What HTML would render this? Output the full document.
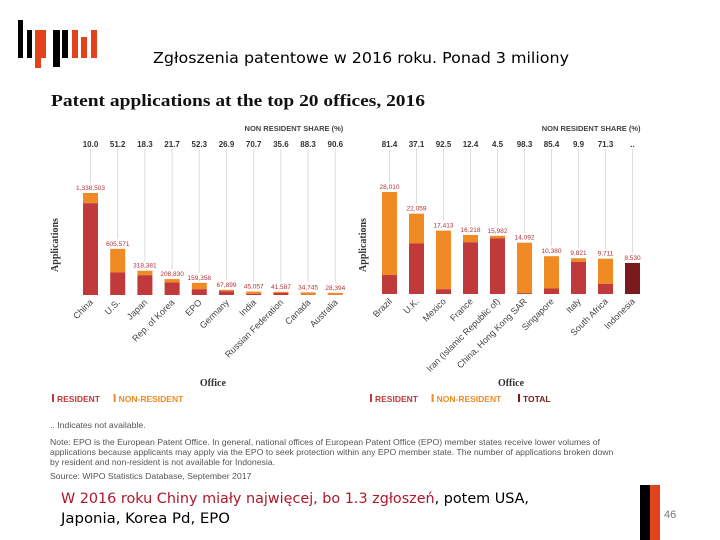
<!DOCTYPE html>
<html><head><meta charset="utf-8"><style>
body{margin:0;width:720px;height:540px;background:#fff;overflow:hidden;font-family:"Liberation Sans",sans-serif}
svg{position:absolute;left:0;top:0}
</style></head><body>
<svg width="720" height="540">
<g id="logo"></g>
<text x="361" y="63" text-anchor="middle" font-family="DejaVu Sans, sans-serif" font-size="15" textLength="416" lengthAdjust="spacingAndGlyphs" fill="#000">Zgłoszenia patentowe w 2016 roku. Ponad 3 miliony</text>
<text x="51" y="106" font-family="Liberation Serif, serif" font-weight="bold" font-size="17" textLength="374" lengthAdjust="spacingAndGlyphs" fill="#111">Patent applications at the top 20 offices, 2016</text>
<g id="left"></g>
<g id="right"></g>
<g font-size="8.7" fill="#555">
<text x="50" y="428">.. Indicates not available.</text>
<text x="50" y="445">Note: EPO is the European Patent Office. In general, national offices of European Patent Office (EPO) member states receive lower volumes of</text>
<text x="50" y="455">applications because applicants may apply via the EPO to seek protection within any EPO member state. The number of applications broken down</text>
<text x="50" y="465">by resident and non-resident is not available for Indonesia.</text>
<text x="50" y="479">Source: WIPO Statistics Database, September 2017</text>
</g>
<rect x="40" y="482" width="600" height="58" fill="#fff"/>
<text x="61" y="503" font-family="DejaVu Sans, sans-serif" font-size="14" textLength="468" lengthAdjust="spacingAndGlyphs" fill="#b0162a">W 2016 roku Chiny miały najwięcej, bo 1.3 zgłoszeń<tspan fill="#000">, potem USA,</tspan></text>
<text x="61" y="523" font-family="DejaVu Sans, sans-serif" font-size="14" textLength="169" lengthAdjust="spacingAndGlyphs" fill="#000">Japonia, Korea Pd, EPO</text>
<rect x="640" y="485" width="10" height="55" fill="#000"/>
<rect x="650" y="485" width="10" height="55" fill="#e2431a"/>
<text x="664" y="518" font-size="11" fill="#777">46</text>
</svg>
<script>
const leftCats=["China","U.S.","Japan","Rep. of Korea","EPO","Germany","India","Russian Federation","Canada","Australia"];
const leftTotals=[1338503,605571,318381,208830,159358,67899,45057,41587,34745,28394];
const leftShares=[10.0,51.2,18.3,21.7,52.3,26.9,70.7,35.6,88.3,90.6];
const leftLabels=["1,338,503","605,571","318,381","208,830","159,358","67,899","45,057","41,587","34,745","28,394"];
const rightCats=["Brazil","U.K.","Mexico","France","Iran (Islamic Republic of)","China, Hong Kong SAR","Singapore","Italy","South Africa","Indonesia"];
const rightTotals=[28010,22059,17413,16218,15982,14092,10380,9821,9711,8530];
const rightShares=[81.4,37.1,92.5,12.4,4.5,98.3,85.4,9.9,71.3,null];
const rightLabels=["28,010","22,059","17,413","16,218","15,982","14,092","10,380","9,821","9,711","8,530"];
const NS="http://www.w3.org/2000/svg";
function mk(p,t,a,txt){const e=document.createElementNS(NS,t);for(const k in a)e.setAttribute(k,a[k]);if(txt!=null)e.textContent=txt;p.appendChild(e);return e;}
const logo=document.getElementById('logo');
[[18,5,20,38,"#000"],[27,5,30,28,"#000"],[35,6,30,38,"#e2431a"],[41,5,30,28,"#e2431a"],[53,7,30,37,"#000"],[62,6,30,28,"#000"],[72,6,30,28,"#e2431a"],[81,6,37,21,"#e2431a"],[91,6,30,28,"#e2431a"]].forEach(b=>{
 const r=mk(logo,'rect',{x:b[0],y:b[2],width:b[1],height:b[3],fill:b[4]});
 
 
});
function chart(g,cats,totals,shares,labels,o){
 const max=Math.max(...totals);
 const y=v=>o.base-v/max*o.h;
 const x=i=>o.x0+i*o.step;
 let t=mk(g,'text',{x:o.x0+o.step*9+8,y:131,'text-anchor':'end','font-size':7.5,'font-weight':'bold',fill:'#444'},'NON RESIDENT SHARE (%)');
 
 t=mk(g,'text',{transform:`translate(${o.ax},245) rotate(-90)`,'text-anchor':'middle','font-family':'Liberation Serif, serif','font-weight':'bold','font-size':10,fill:'#333'},'Applications');
 
 t=mk(g,'text',{x:x(4.5),y:386,'text-anchor':'middle','font-family':'Liberation Serif, serif','font-weight':'bold','font-size':10,fill:'#333'},'Office');
 
 cats.forEach((c,i)=>{
  const cx=x(i),tot=totals[i],sh=shares[i];
  const l=mk(g,'line',{x1:cx,x2:cx,y1:149,y2:y(tot)-10,stroke:'#ddd','stroke-width':1});
  
  const s=mk(g,'text',{x:cx,y:147,'text-anchor':'middle','font-size':8,'font-weight':'bold',fill:'#333'},sh==null?'..':sh.toFixed(1));
  
  if(sh==null){
   const r=mk(g,'rect',{x:cx-7.5,y:y(tot),width:15,height:o.base-y(tot),fill:'#7a1a1e'});
   
  }else{
   const res=tot*(1-sh/100);
   const r1=mk(g,'rect',{x:cx-7.5,y:y(tot),width:15,height:y(res)-y(tot),fill:'#f08a24'});
   
   const r2=mk(g,'rect',{x:cx-7.5,y:y(res),width:15,height:o.base-y(res),fill:'#c0393b'});
   
  }
  const v=mk(g,'text',{x:cx,y:y(tot)-3,'text-anchor':'middle','font-size':6.5,fill:'#b0323a'},labels[i]);
  
  const cl=mk(g,'text',{transform:`translate(${cx+3},${o.base+8}) rotate(-45)`,'text-anchor':'end','font-size':9,fill:'#444'},c);
  
 });
 let lx=o.lx;
 [['RESIDENT','#c0393b'],['NON-RESIDENT','#f08a24']].concat(o.total?[['TOTAL','#7a1a1e']]:[]).forEach(e=>{
  const r=mk(g,'rect',{x:lx,y:394,width:2,height:8,fill:e[1]});
  
  const tt=mk(g,'text',{x:lx+5,y:402,'font-size':8.5,'font-weight':'bold',fill:e[1]},e[0]);
  
  lx+=e[0].length*6.2+12;
 });
}
chart(document.getElementById('left'),leftCats,leftTotals,leftShares,leftLabels,{x0:90.5,step:27.2,base:295,h:102,ax:58,lx:52,total:false});
chart(document.getElementById('right'),rightCats,rightTotals,rightShares,rightLabels,{x0:389.5,step:27,base:294,h:102,ax:366,lx:370,total:true});
</script>
</body></html>
